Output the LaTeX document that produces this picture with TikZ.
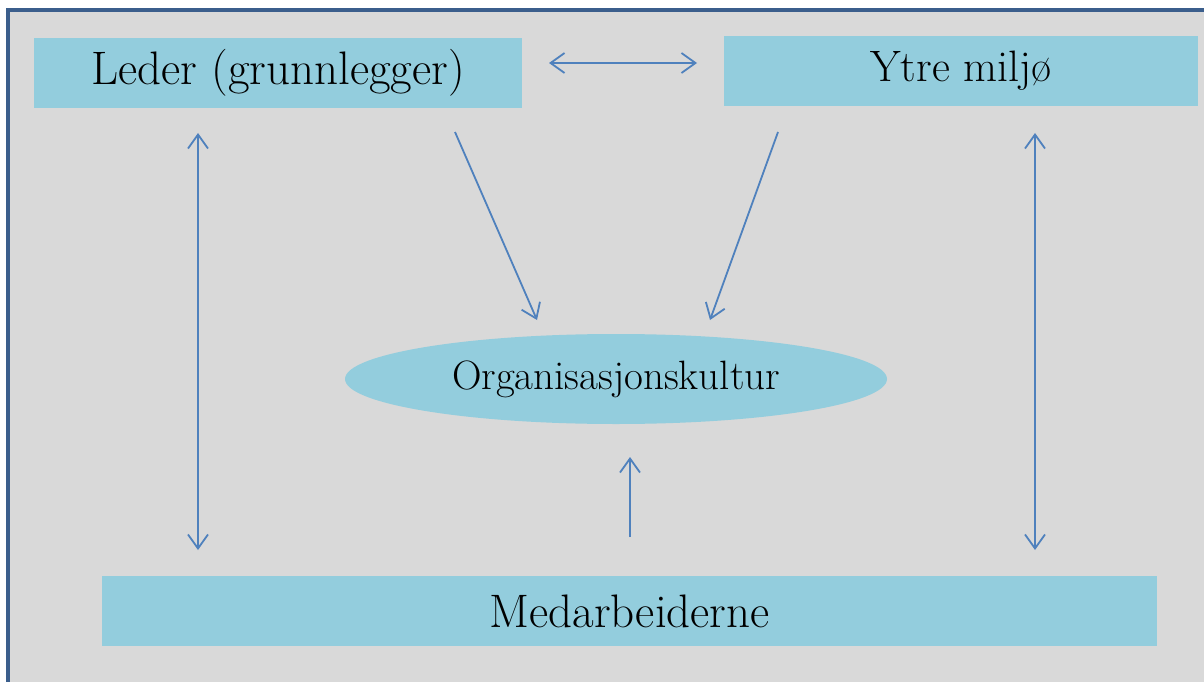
\documentclass[tikz,border=0pt]{standalone}
\usepackage{tikz}
\usetikzlibrary{arrows.meta,shapes.geometric}
\definecolor{frameblue}{HTML}{3B5E8C}
\definecolor{panelgray}{HTML}{D9D9D9}
\definecolor{boxfill}{HTML}{93CDDD}
\definecolor{arrowblue}{HTML}{4F81BD}
\tikzset{
  barb/.tip={Straight Barb[length=14pt,width=20pt,line width=1.8pt]},
  block/.style={fill=boxfill, draw=none, inner sep=0pt},
  flow/.style={draw=arrowblue, line width=1.8pt, -{barb}},
  twoway/.style={draw=arrowblue, line width=1.8pt, {barb}-{barb}},
}
\begin{document}
\begin{tikzpicture}[x=1pt,y=-1pt]
\useasboundingbox (0,0) rectangle (1204,682);
\clip (0,0) rectangle (1204,682);
\fill[white] (0,0) rectangle (1204,682);
% outer panel
\draw[frameblue, line width=4pt, fill=panelgray] (8,10) rectangle (1215,695);

% boxes
\node[block, minimum width=488pt, minimum height=70pt] (leder) at (278,73)
  {\fontsize{47}{56}\selectfont Leder (grunnlegger)};
\node[block, minimum width=474pt, minimum height=70pt] (ytre) at (961,71)
  {\fontsize{44}{52}\selectfont Ytre miljø};
\node[block, minimum width=1055pt, minimum height=70pt] (med) at (629.5,611)
  {\fontsize{47}{56}\selectfont Medarbeiderne};
\node[ellipse, fill=boxfill, minimum width=542pt, minimum height=90pt, inner sep=0pt] (org) at (616,379)
  {\fontsize{41}{48}\selectfont Organisasjonskultur};

% connector end points
\coordinate (hL) at (549,63);
\coordinate (hR) at (697,63);
\coordinate (lT) at (198,133);
\coordinate (lB) at (198,550);
\coordinate (rT) at (1035,133);
\coordinate (rB) at (1035,550);
\coordinate (a1s) at (455,132);
\coordinate (a1e) at (537,320);
\coordinate (a2s) at (778,132);
\coordinate (a2e) at (710,320);
\coordinate (a3s) at (630,537);
\coordinate (a3e) at (630,457);

\draw[twoway] (hL) -- (hR);
\draw[twoway] (lT) -- (lB);
\draw[twoway] (rT) -- (rB);
\draw[flow] (a1s) -- (a1e);
\draw[flow] (a2s) -- (a2e);
\draw[flow] (a3s) -- (a3e);
\end{tikzpicture}
\end{document}
